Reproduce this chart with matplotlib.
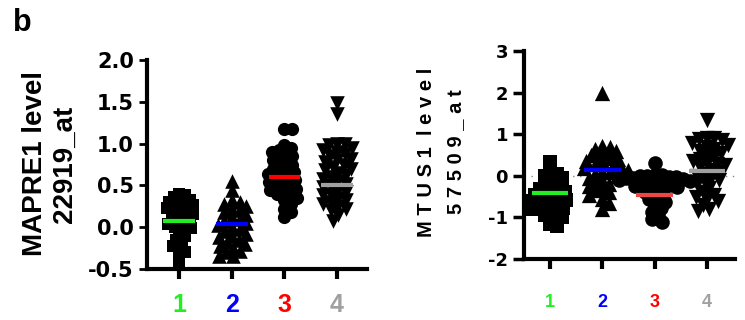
import numpy as np
import matplotlib
matplotlib.use("Agg")
from matplotlib import pyplot as plt

# groups and their colours
groups = [1, 2, 3, 4]
group_colors = ["#22ee22", "#0000ff", "#ff0000", "#a0a0a0"]
group_markers = ["s", "^", "o", "v"]

# MAPRE1 level (22919_at)
mapre1_g1 = [0.40, 0.38, 0.36, 0.33, 0.31, 0.30, 0.28, 0.26, 0.25, 0.23, 0.21, 0.20,
             0.18, 0.16, 0.14, 0.12, 0.10, 0.08, 0.06, 0.04, 0.02, 0.0, -0.01, -0.08,
             -0.10, -0.15, -0.18, -0.22, -0.27, -0.30, -0.35, -0.43]
mapre1_g2 = [0.55, 0.45, 0.32, 0.30, 0.28, 0.25, 0.22, 0.20, 0.18, 0.15, 0.12, 0.10,
             0.08, 0.05, 0.03, 0.0, -0.02, -0.05, -0.08, -0.10, -0.12, -0.15, -0.18,
             -0.20, -0.22, -0.25, -0.28, -0.30, -0.35, -0.35]
mapre1_g3 = [1.18, 1.18, 0.98, 0.95, 0.92, 0.90, 0.88, 0.85, 0.83, 0.80, 0.78, 0.75,
             0.72, 0.70, 0.68, 0.66, 0.64, 0.62, 0.60, 0.58, 0.56, 0.54, 0.52, 0.50,
             0.48, 0.46, 0.44, 0.42, 0.40, 0.38, 0.35, 0.32, 0.28, 0.22, 0.18, 0.12]
mapre1_g4 = [1.48, 1.35, 1.00, 1.00, 0.98, 0.95, 0.92, 0.90, 0.88, 0.85, 0.82, 0.80,
             0.78, 0.75, 0.72, 0.70, 0.68, 0.65, 0.62, 0.60, 0.58, 0.55, 0.52, 0.50,
             0.48, 0.45, 0.42, 0.40, 0.38, 0.35, 0.32, 0.30, 0.28, 0.25, 0.22, 0.20,
             0.15, 0.08]
mapre1_means = [0.08, 0.04, 0.60, 0.50]

# MTUS1 level (57509_at)
mtus1_g1 = [0.32, 0.10, 0.05, 0.0, -0.05, -0.10, -0.15, -0.20, -0.25, -0.30, -0.32,
            -0.35, -0.40, -0.42, -0.45, -0.48, -0.50, -0.55, -0.58, -0.60, -0.65,
            -0.68, -0.70, -0.75, -0.78, -0.80, -0.85, -0.90, -0.95, -1.00, -1.15,
            -1.20]
mtus1_g2 = [2.00, 0.72, 0.70, 0.65, 0.60, 0.55, 0.50, 0.45, 0.42, 0.40, 0.35, 0.30,
            0.28, 0.25, 0.20, 0.18, 0.15, 0.10, 0.08, 0.05, 0.0, -0.05, -0.10, -0.15,
            -0.20, -0.25, -0.30, -0.35, -0.40, -0.45, -0.55, -0.65, -0.80]
mtus1_g3 = [0.30, 0.03, 0.02, 0.0, 0.0, -0.02, -0.03, -0.05, -0.06, -0.08, -0.10,
            -0.12, -0.14, -0.15, -0.18, -0.20, -0.22, -0.25, -0.28, -0.30, -0.35,
            -0.40, -0.45, -0.50, -0.55, -0.62, -0.70, -0.78, -0.86, -0.95, -1.05,
            -1.10]
mtus1_g4 = [1.35, 0.90, 0.90, 0.88, 0.85, 0.80, 0.75, 0.70, 0.65, 0.60, 0.55, 0.50,
            0.45, 0.40, 0.35, 0.30, 0.28, 0.25, 0.20, 0.15, 0.10, 0.05, 0.0, -0.05,
            -0.10, -0.15, -0.20, -0.30, -0.40, -0.45, -0.50, -0.55, -0.60, -0.70,
            -0.80, -0.85]
mtus1_means = [-0.42, 0.15, -0.47, 0.12]


def swarm_offsets(ax, yvals, d_px):
    # simple beeswarm: place each point as close to the centre as possible
    y = np.asarray(yvals, dtype=float)
    ypx = ax.transData.transform(np.column_stack([np.zeros(len(y)), y]))[:, 1]
    x0 = ax.transData.transform([[0, 0]])[0, 0]
    x1 = ax.transData.transform([[1, 0]])[0, 0]
    px_per_unit = x1 - x0
    placed = []
    offsets = np.zeros(len(y))
    for i in np.argsort(-y):
        cands = [0.0]
        for (xo, yo) in placed:
            dy = ypx[i] - yo
            if abs(dy) < d_px:
                dx = np.sqrt(d_px ** 2 - dy ** 2)
                cands += [xo + dx, xo - dx]
        cands.sort(key=abs)
        for c in cands:
            if all(np.hypot(c - xo, ypx[i] - yo) >= d_px - 1e-6 for (xo, yo) in placed):
                break
        placed.append((c, ypx[i]))
        offsets[i] = c / px_per_unit
    return offsets


def draw_panel(ax, data, means, msizes, overlap, half_width, tick_fs, xtick_fs, xpad, colors):
    for i, (vals, marker, ms) in enumerate(zip(data, group_markers, msizes)):
        d_px = ms * 100 / 72 * overlap
        offs = swarm_offsets(ax, vals, d_px)
        ax.scatter(groups[i] + offs, vals, s=ms ** 2, marker=marker, color="black",
                   linewidths=0, zorder=2)
        ax.hlines(means[i], groups[i] - half_width, groups[i] + half_width,
                  color=colors[i], linewidth=3, zorder=3)

    for side in ["top", "right"]:
        ax.spines[side].set_visible(False)
    for side in ["left", "bottom"]:
        ax.spines[side].set_linewidth(3)
    ax.tick_params(axis="y", length=6, width=2)
    ax.tick_params(axis="x", length=7, width=3, pad=xpad)
    ax.set_xticks(groups)
    ax.set_xticklabels([str(g) for g in groups], fontsize=xtick_fs,
                       fontweight="bold", family="Liberation Sans")
    for lbl, c in zip(ax.get_xticklabels(), group_colors):
        lbl.set_color(c)
    for lbl in ax.get_yticklabels():
        lbl.set_fontsize(tick_fs)
        lbl.set_fontweight("bold")


fig = plt.figure(figsize=(7.45, 3.2), dpi=100)

# left panel: MAPRE1
ax1 = fig.add_axes([147 / 745, 51 / 320, 220 / 745, 209 / 320])
ax1.set_xlim(0.39, 4.57)
ax1.set_ylim(-0.5, 2.0)
ax1.set_yticks([-0.5, 0.0, 0.5, 1.0, 1.5, 2.0])
ax1.set_yticklabels(["-0.5", "0.0", "0.5", "1.0", "1.5", "2.0"])
draw_panel(ax1, [mapre1_g1, mapre1_g2, mapre1_g3, mapre1_g4], mapre1_means,
           [8.5, 10.5, 9.5, 10.5], 0.55, 0.3, 15, 18, 10, group_colors)

# right panel: MTUS1
ax2 = fig.add_axes([524 / 745, 61 / 320, 211 / 745, 208 / 320])
ax2.set_xlim(0.5, 4.54)
ax2.set_ylim(-2, 3)
ax2.set_yticks([-2, -1, 0, 1, 2, 3])
ax2.set_yticklabels(["-2", "-1", "0", "1", "2", "3"])
ax2.axhline(0, color="#888888", linewidth=1, linestyle=(0, (1, 4)), zorder=1)
draw_panel(ax2, [mtus1_g1, mtus1_g2, mtus1_g3, mtus1_g4], mtus1_means,
           [10, 11, 10.5, 11], 0.5, 0.35, 13, 13, 18,
           ["#22ee22", "#0000ff", "#f04545", "#a0a0a0"])
ax2.tick_params(axis="y", length=8, width=2.5)

# axis titles
fig.text(50 / 745, 1 - 164 / 320, "MAPRE1 level\n22919_at", rotation=90,
         ha="center", va="center", multialignment="center", fontsize=20,
         fontweight="bold", family="Liberation Sans")
fig.text(441 / 745, 1 - 152 / 320, "M T U S 1  l e v e l\n5 7 5 0 9 _ a t", rotation=90,
         ha="center", va="center", multialignment="center", fontsize=14.5,
         fontweight="bold", family="Liberation Sans", linespacing=1.7)

fig.text(13 / 745, 1 - 8 / 320, "b", ha="left", va="top", fontsize=22,
         fontweight="bold", family="Liberation Sans")

fig.savefig("out.png", dpi=100)
